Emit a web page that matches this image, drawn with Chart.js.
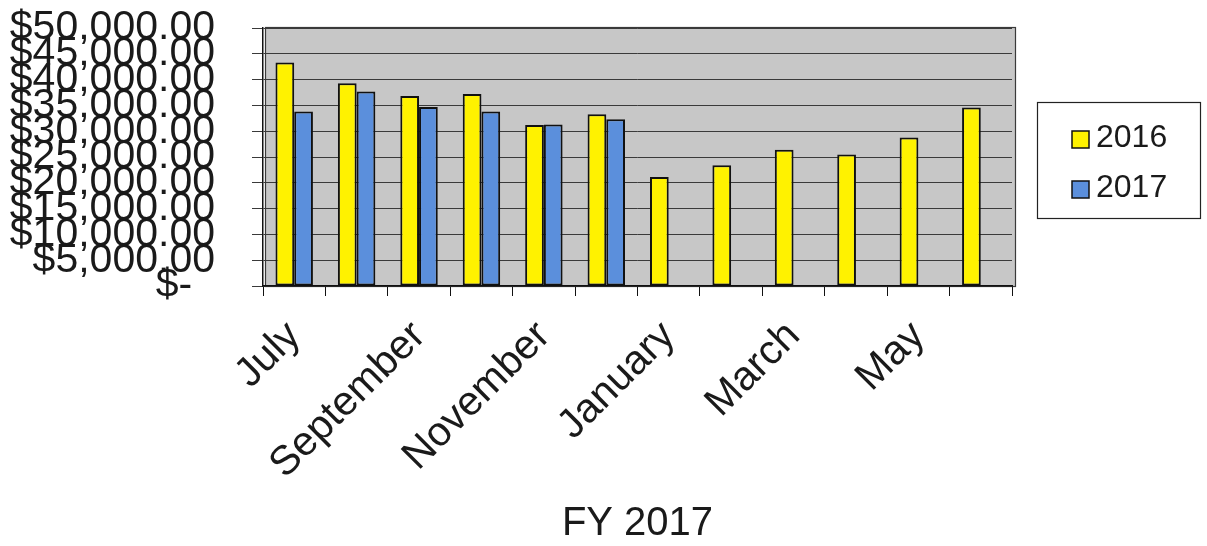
<!DOCTYPE html>
<html><head><meta charset="utf-8">
<script src="https://cdn.jsdelivr.net/npm/chart.js@4.4.0/dist/chart.umd.min.js"></script>
<style>html,body{margin:0;padding:0;background:#fff;} #wrap{width:1207px;height:546px;}</style>
</head><body><div id="wrap"><canvas id="c" width="1207" height="546"></canvas></div>
<script>
const months = ["July","August","September","October","November","December","January","February","March","April","May","June"];
const series2016 = [43300,39300,36800,37200,31200,33300,21100,23400,26400,25500,28800,34600];
const series2017 = [33800,37700,34700,33800,31300,32300,null,null,null,null,null,null];
const seriesNames = ["2016","2017"];
const seriesColors = ["#fff200","#5b8fdc"];
const yMin = 0, yMax = 50000, yStep = 5000;
const xTitle = "FY 2017";

function fmtMoney(v){
  if (v === 0) return "$-  ";
  const s = Math.round(v).toString().replace(/\B(?=(\d{3})+(?!\d))/g, ",");
  return "$" + s + ".00";
}

const FONT = "'Liberation Sans', Arial, sans-serif";

const wallPlugin = {
  id: 'wall',
  beforeDraw(chart){
    const {ctx, chartArea:a} = chart;
    ctx.save();
    ctx.fillStyle = '#c7c7c7';
    ctx.fillRect(a.left+2, a.top-1, a.right-a.left+1, a.bottom-a.top+1);
    ctx.strokeStyle = '#3a3a3a';
    ctx.lineWidth = 1.2;
    ctx.strokeRect(a.left+2.5, a.top-0.5, a.right-a.left+1, a.bottom-a.top+1);
    ctx.restore();
  }
};

const legendPlugin = {
  id: 'boxLegend',
  afterDraw(chart){
    const ctx = chart.ctx;
    ctx.save();
    const bx = 1037, by = 102, bw = 163, bh = 116;
    ctx.fillStyle = '#fff';
    ctx.fillRect(bx, by, bw, bh);
    ctx.strokeStyle = '#222';
    ctx.lineWidth = 1.2;
    ctx.strokeRect(bx+0.5, by+0.5, bw, bh);
    ctx.font = "32px " + FONT;
    ctx.textBaseline = 'middle';
    ctx.textAlign = 'left';
    chart.data.datasets.forEach((ds, i) => {
      const cy = 140 + i*50;
      ctx.fillStyle = ds.backgroundColor;
      ctx.fillRect(1072, cy-9, 17, 17);
      ctx.strokeStyle = '#111';
      ctx.lineWidth = 1.5;
      ctx.strokeRect(1072, cy-9, 17, 17);
      ctx.fillStyle = '#1a1a1a';
      ctx.fillText(ds.label, 1096, cy-2);
    });
    ctx.restore();
  }
};

new Chart(document.getElementById('c'), {
  type: 'bar',
  data: {
    labels: months,
    datasets: [
      {label: seriesNames[0], data: series2016, backgroundColor: seriesColors[0], borderColor: '#111', borderWidth: 2, borderSkipped: false, categoryPercentage: 0.6, barPercentage: 1.0},
      {label: seriesNames[1], data: series2017, backgroundColor: seriesColors[1], borderColor: '#111', borderWidth: 2, borderSkipped: false, categoryPercentage: 0.6, barPercentage: 1.0}
    ]
  },
  options: {
    responsive: false,
    animation: false,
    devicePixelRatio: 1,
    layout: {padding: {top: 28, right: 195, bottom: 0, left: 0}},
    plugins: {legend: {display: false}, tooltip: {enabled: false}},
    scales: {
      x: {
        offset: true,
        afterFit(s){ s.height = 260; },
        grid: {drawOnChartArea: false, drawTicks: true, tickLength: 10, color: '#111', offset: true},
        border: {display: true, color: '#111', width: 1.5},
        ticks: {
          autoSkip: false, maxRotation: 45, minRotation: 45, padding: 16,
          font: {family: FONT, size: 41}, color: '#1a1a1a',
          callback: (v, i) => (i % 2 === 0 ? months[i] : '')
        },
        title: {display: true, text: xTitle, font: {family: FONT, size: 40, lineHeight: 1.0}, color: '#1a1a1a', padding: {top: 0, bottom: 2}}
      },
      y: {
        min: yMin, max: yMax,
        afterFit(s){ s.width = 263; s.paddingTop = 0; s.paddingBottom = 0; },
        grid: {color: '#3a3a3a', lineWidth: 1, tickLength: 11, drawTicks: true},
        border: {display: true, color: '#111', width: 1.5},
        ticks: {stepSize: yStep, autoSkip: false, padding: 37, font: {family: FONT, size: 41, lineHeight: 1.0}, color: '#1a1a1a', callback: v => fmtMoney(v)}
      }
    }
  },
  plugins: [wallPlugin, legendPlugin]
});
</script>
</body></html>
